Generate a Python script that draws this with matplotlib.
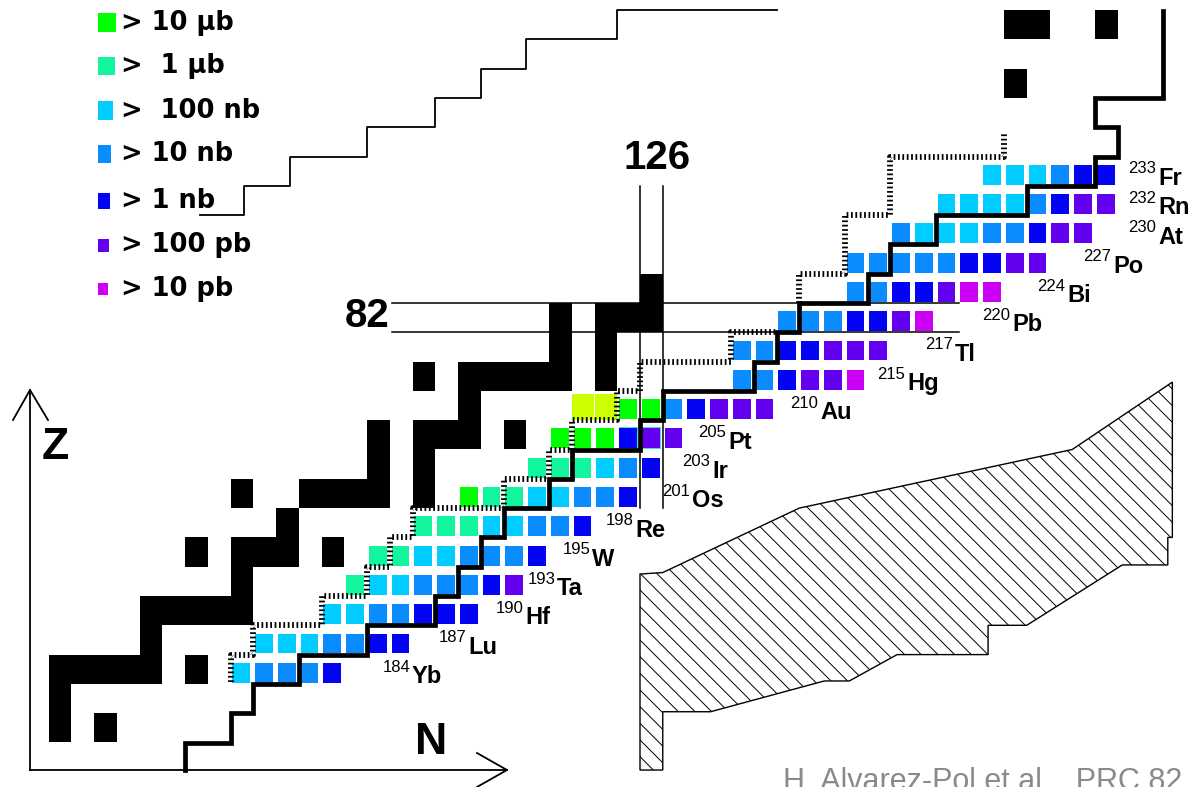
import matplotlib.pyplot as plt
from matplotlib.patches import Rectangle, Polygon

plt.rcParams['font.family'] = ['Liberation Sans', 'DejaVu Sans']
plt.rcParams['hatch.linewidth'] = 0.7

W, H = 1192, 787
# grid of the chart: one cell per (N, Z); pixel anchors of the N=126 / Z=82 cells
N0, PX0, DX = 126, 640.0, 22.75
Z0, PY0, DY = 83, 303.0, 29.3


def to_data(px, py):
    return N0 + (px - PX0) / DX, Z0 - (py - PY0) / DY


# ---- data -------------------------------------------------------------
legend_labels = ['> 10 \u03bcb', '>  1 \u03bcb', '>  100 nb', '> 10 nb', '> 1 nb', '> 100 pb', '> 10 pb']
legend_codes = ['G', 'M', 'C', 'B', 'D', 'V', 'P']
colors = {'G': '#00ff00', 'M': '#12f59c', 'C': '#00ccff', 'B': '#0a8cff',
          'D': '#0404f4', 'V': '#6400f0', 'P': '#cc00f4', 'Y': '#ccff00'}

row_z = [70, 71, 72, 73, 74, 75, 76, 77, 78, 79, 80, 81, 82, 83, 84, 85, 86, 87]
row_first_n = [108, 109, 112, 113, 114, 116, 118, 121, 122, 123, 130, 130, 132, 135, 135, 137, 139, 141]
row_codes = ['CBBBD', 'CCCBBDD', 'CCBBDDD', 'MCCBBBDV', 'MMCCBBBD', 'MMMCCBBD',
             'GMMCCBBD', 'MMMCBD', 'GGGDVV', 'YYGGBDVVV', 'BBDVVP', 'BBDDVVV',
             'BBBDDVP', 'BBDDVPP', 'BBBBBDDVV', 'BCCCBBDVV', 'CCCCBDVV', 'CCCBDD']
halo_n = [125, 126]
halo_z = [78, 78]

label_sym = ['Yb', 'Lu', 'Hf', 'Ta', 'W', 'Re', 'Os', 'Ir', 'Pt', 'Au', 'Hg', 'Tl',
             'Pb', 'Bi', 'Po', 'At', 'Rn', 'Fr']
label_a = [184, 187, 190, 193, 195, 198, 201, 203, 205, 210, 215, 217, 220, 224, 227, 230, 232, 233]
label_n = [115.98, 118.44, 120.95, 122.35, 123.89, 125.78, 128.29, 129.16, 129.87, 133.91,
           137.74, 139.85, 142.35, 144.77, 146.79, 148.77, 148.77, 148.77]

# stable / known nuclei (black cells)
black_n = [126, 122, 124, 125, 126, 122, 124, 116, 118, 119, 120, 121, 122, 124, 118,
           114, 116, 117, 118, 120, 114, 116, 108, 111, 112, 113, 114, 116, 110,
           106, 108, 109, 110, 112, 108, 104, 105, 106, 107, 108, 104,
           100, 101, 102, 103, 104, 106, 100, 100, 102, 142, 143, 146, 142]
black_z = [83, 82, 82, 82, 82, 81, 81, 80, 80, 80, 80, 80, 80, 80, 79,
           78, 78, 78, 78, 78, 77, 77, 76, 76, 76, 76, 76, 76, 75,
           74, 74, 74, 74, 74, 73, 72, 72, 72, 72, 72, 71,
           70, 70, 70, 70, 70, 70, 69, 68, 68, 92, 92, 92, 90]

# limit of known nuclei (thick line)
thick_n = [106, 106, 108, 108, 109, 109, 111, 111, 114, 114, 117, 117, 118, 118, 119, 119,
           120, 120, 122, 122, 123, 123, 126, 126, 127, 127, 131, 131, 132, 132, 133, 133,
           136, 136, 137, 137, 139, 139, 143, 143, 146, 146, 147, 147, 146, 146, 149, 149]
thick_z = [67.06, 68, 68, 69, 69, 70, 70, 71, 71, 72, 72, 73, 73, 74, 74, 75,
           75, 76, 76, 77, 77, 78, 78, 79, 79, 80, 80, 81, 81, 82, 82, 83,
           83, 84, 84, 85, 85, 86, 86, 87, 87, 88, 88, 89, 89, 90, 90, 92.95]

# previous limit (dashed line), two pieces
dash1_n = [108, 108, 109, 109, 112, 112, 114, 114, 115, 115, 116, 116, 120, 120, 122, 122,
           123, 123, 125, 125, 126, 126, 130, 130, 132]
dash1_z = [70.05, 71, 71, 72, 72, 73, 73, 74, 74, 75, 75, 76, 76, 77, 77, 78,
           78, 79, 79, 80, 80, 81, 81, 82, 82]
dash2_n = [133, 133, 135, 135, 137, 137, 142, 142]
dash2_z = [83, 84, 84, 86, 86, 88, 88, 88.85]

# thin staircase (drip line)
stair_n = [106.66, 108.6, 108.6, 110.6, 110.6, 114, 114, 117, 117, 119, 119, 121, 121, 125, 125, 132]
stair_z = [86, 86, 87, 87, 88, 88, 89, 89, 90, 90, 91, 91, 92, 92, 93, 93]

# hatched region
hatch_n = [126, 126, 127, 133, 145, 149.4, 149.4, 149.2, 149.2, 147.2, 143, 141.3, 141.3,
           137.3, 135.2, 134.1, 129.1, 127, 127]
hatch_z = [67.06, 73.75, 73.8, 76.0, 78.0, 80.3, 75.0, 75.0, 74.06, 74.06, 72.0, 72.0, 71.0,
           71.0, 70.1, 70.1, 69.05, 69.05, 67.06]

# magic numbers
magic_z = [82, 83]
magic_z_span = [115.1, 140.0]
magic_n = [126, 127]
magic_n_span = [76, 87]

# ---- figure -----------------------------------------------------------
fig = plt.figure(figsize=(W / 100, H / 100), dpi=100)
ax = fig.add_axes([0, 0, 1, 1])
x0, y1 = to_data(0, 0)
x1, y0 = to_data(W, H)
ax.set_xlim(x0, x1)
ax.set_ylim(y0, y1)
ax.axis('off')

# magic number lines
for z in magic_z:
    ax.plot(magic_z_span, [z, z], color='black', lw=1.1, zorder=1)
for n in magic_n:
    ax.plot([n, n], magic_n_span, color='black', lw=1.1, zorder=1)

# black cells
for n, z in zip(black_n, black_z):
    ax.add_patch(Rectangle((n, z), 1, 1, facecolor='black', edgecolor='none', zorder=2))

# halo behind two Pt cells
for n, z in zip(halo_n, halo_z):
    ax.add_patch(Rectangle((n + 0.06, z + 0.02), 0.86, 0.76, facecolor='#3fe3d6',
                           edgecolor='none', zorder=2))

# measured nuclei
for z, n_first, codes in zip(row_z, row_first_n, row_codes):
    for i, c in enumerate(codes):
        n = n_first + i
        if c == 'Y':
            ax.add_patch(Rectangle((n + 0.02, z + 0.02), 0.96, 0.88, facecolor=colors[c],
                                   edgecolor='none', zorder=3))
        else:
            ax.add_patch(Rectangle((n + 0.08, z + 0.04), 0.78, 0.68, facecolor=colors[c],
                                   edgecolor='none', zorder=3))

# hatched region
ax.add_patch(Polygon(list(zip(hatch_n, hatch_z)), closed=True, facecolor='none',
                     edgecolor='black', lw=1.0, hatch='\\\\', zorder=1))

# lines
ax.plot(stair_n, stair_z, color='black', lw=1.3, zorder=4)
ax.plot(thick_n, thick_z, color='black', lw=3.4, solid_joinstyle='miter', zorder=6)
for dn, dz in [(dash1_n, dash1_z), (dash2_n, dash2_z)]:
    ax.plot(dn, dz, color='black', lw=4.2, linestyle=(0, (0.3, 0.45)),
            dash_capstyle='butt', zorder=5)

# isotope labels
for sym, a, n, z in zip(label_sym, label_a, label_n, row_z):
    ax.text(n, z + 0.03, sym, fontsize=17, fontweight='bold', ha='left', va='baseline', zorder=7)
    ax.text(n - 0.08, z + 0.42, str(a), fontsize=12, ha='right', va='baseline', zorder=7)

# magic number labels
ax.text(115.0, 82.55, '82', fontsize=29, fontweight='bold', ha='right', va='center')
ax.text(126.75, 87.95, '126', fontsize=29, fontweight='bold', ha='center', va='center')

# axes arrows
ax_n, ax_z = to_data(30, 770)
tip_n, _ = to_data(507, 770)
_, tip_z = to_data(30, 390)
ax.plot([ax_n, ax_n], [ax_z, tip_z], color='black', lw=1.3)
ax.plot([ax_n, tip_n], [ax_z, ax_z], color='black', lw=1.3)
a1 = to_data(13, 420)
a2 = to_data(48, 420)
ax.plot([a1[0], ax_n, a2[0]], [a1[1], tip_z, a2[1]], color='black', lw=1.3)
b1 = to_data(477, 753)
b2 = to_data(477, 787)
ax.plot([b1[0], tip_n, b2[0]], [b1[1], ax_z, b2[1]], color='black', lw=1.3)
zl = to_data(55, 448)
nl = to_data(431, 743)
ax.text(zl[0], zl[1], 'Z', fontsize=32, fontweight='bold', ha='center', va='center')
ax.text(nl[0], nl[1], 'N', fontsize=32, fontweight='bold', ha='center', va='center')

# legend (figure pixels)
leg_y = [22.5, 66, 110.5, 154, 200.5, 245, 289]
leg_w = [18, 17, 15, 13, 12, 11, 10]
leg_h = [19, 18, 18, 18, 16, 13, 12]
for lab, code, y, w, h in zip(legend_labels, legend_codes, leg_y, leg_w, leg_h):
    fig.patches.append(Rectangle((98 / W, 1 - (y + h / 2) / H), w / W, h / H,
                                 facecolor=colors[code], edgecolor='none',
                                 transform=fig.transFigure, figure=fig))
    fig.text(121 / W, 1 - y / H, lab, fontsize=18.5, fontweight='bold', ha='left',
             va='center', family='DejaVu Sans')

fig.text(783 / W, 1 - 767 / H, 'H. Alvarez-Pol et al.,  PRC 82', fontsize=22, color='#8a8a8a',
         ha='left', va='top')

fig.savefig('out.png', dpi=100)
